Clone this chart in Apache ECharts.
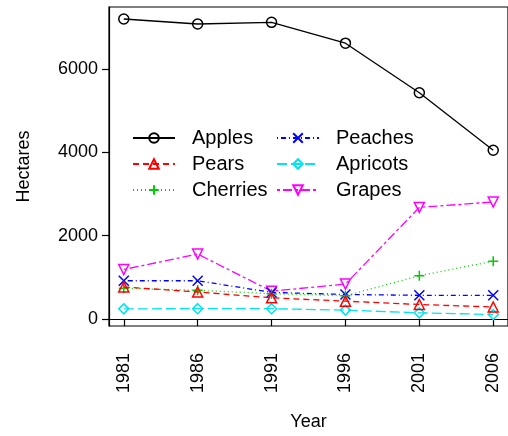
<!DOCTYPE html>
<html><head><meta charset="utf-8">
<script src="https://cdn.jsdelivr.net/npm/echarts@6/dist/echarts.min.js"></script>
<style>html,body{margin:0;padding:0;background:#fff}#c{width:508px;height:436px}</style>
</head><body><div id="c"></div>
<script>
const years = [1981, 1986, 1991, 1996, 2001, 2006];
const yTicks = [0, 2000, 4000, 6000];
const apples   = [7200, 7080, 7120, 6620, 5430, 4050];
const pears    = [770, 650, 510, 430, 350, 290];
const cherries = [740, 690, 610, 560, 1040, 1390];
const peaches  = [920, 920, 640, 590, 570, 570];
const apricots = [245, 250, 250, 215, 150, 110];
const grapes   = [1190, 1560, 670, 840, 2680, 2810];

const names = ['Apples','Pears','Cherries','Peaches','Apricots','Grapes'];
const values = [apples, pears, cherries, peaches, apricots, grapes];
const colors = ['#000000','#ff0000','#00cd00','#0000ff','#00e5ee','#ff00ff'];
const dashes = ['solid',[6,4],[1,3],[1,3,5,3],[10,4],[3,3,9,3]];
const symbols = [
  'circle',
  'path://M5,0L10,9L0,9Z',
  'path://M5,0L5,10M0,5L10,5',
  'path://M0,0L10,10M10,0L0,10',
  'path://M5,0L10,5L5,10L0,5Z',
  'path://M0,0L10,0L5,9Z'
];
const font = 'Liberation Sans, Arial, sans-serif';

const series = names.map((n, i) => ({
  name: n, type: 'line',
  data: years.map((y, j) => [y, values[i][j]]),
  symbol: symbols[i], symbolSize: 10, showSymbol: true,
  itemStyle: { color: 'rgba(255,255,255,0)', borderColor: colors[i], borderWidth: 1.5 },
  lineStyle: { color: colors[i], width: 1.3, type: dashes[i] },
  emphasis: { disabled: true }, animation: false, z: 10 - i
}));

const legendCommon = {
  orient: 'vertical', itemWidth: 42, itemHeight: 12, itemGap: 6,
  textStyle: { fontFamily: font, fontSize: 20, color: '#000', padding: [0,0,0,12] },
  itemStyle: { color: 'rgba(255,255,255,0)' }
};

const chart = echarts.init(document.getElementById('c'), null, { renderer: 'canvas' });
chart.setOption({
  animation: false,
  backgroundColor: '#fff',
  grid: { left: 109, top: 7, right: -2, bottom: 106, show: true, borderColor: '#000', borderWidth: 1.2 },
  legend: [
    Object.assign({ data: ['Apples','Pears','Cherries'], left: 127, top: 123 }, legendCommon),
    Object.assign({ data: ['Peaches','Apricots','Grapes'], left: 271, top: 123 }, legendCommon)
  ],
  xAxis: {
    type: 'value', min: 1980, max: 2007,
    name: 'Year', nameLocation: 'middle', nameGap: 87,
    nameTextStyle: { fontFamily: font, fontSize: 18, color: '#000' },
    axisLine: { show: true, lineStyle: { color: '#000', width: 1.2 } },
    axisTick: { show: true, length: 7, customValues: years, lineStyle: { color: '#000', width: 1.2 } },
    axisLabel: { customValues: years, rotate: 90, margin: 27, fontFamily: font, fontSize: 18, color: '#000', formatter: v => String(v) },
    splitLine: { show: false }
  },
  yAxis: {
    type: 'value', min: -166, max: 7488,
    name: 'Hectares', nameLocation: 'middle', nameGap: 76, nameRotate: 90,
    nameTextStyle: { fontFamily: font, fontSize: 18, color: '#000' },
    axisLine: { show: true, lineStyle: { color: '#000', width: 1.2 } },
    axisTick: { show: true, length: 7, customValues: yTicks, lineStyle: { color: '#000', width: 1.2 } },
    axisLabel: { customValues: yTicks, margin: 11, fontFamily: font, fontSize: 18, color: '#000', formatter: v => String(v) },
    splitLine: { show: false }
  },
  series: series
});
</script></body></html>
